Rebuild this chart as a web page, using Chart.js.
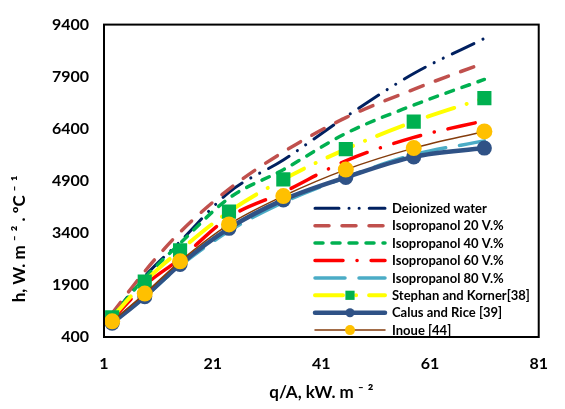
<!DOCTYPE html>
<html>
<head>
<meta charset="utf-8">
<script src="https://cdn.jsdelivr.net/npm/chart.js@4.4.1/dist/chart.umd.min.js"></script>
<style>
  html, body { margin: 0; padding: 0; background: #fff; }
  #wrap { width: 565px; height: 409px; position: relative; }
</style>
</head>
<body>
<div id="wrap"><canvas id="chart"></canvas></div>
<script>
'use strict';

// ── Data ───────────────────────────────────────────────────────────────────
const Q_FLUX      = [2.5, 8.5, 15, 24, 34, 45.5, 58, 71];
const DEIONIZED   = [1000, 2150, 3150, 4570, 5500, 6745, 7990, 9000];
const ISO_20      = [1080, 2290, 3420, 4660, 5730, 6720, 7535, 8300];
const ISO_40      = [1000, 2100, 3100, 4400, 5220, 6265, 7083, 7820];
const ISO_60      = [900, 1890, 2656, 3850, 4570, 5475, 6150, 6630];
const ISO_80      = [800, 1560, 2450, 3450, 4280, 5000, 5650, 6050];
const STEPHAN     = [964, 2000, 2900, 4010, 4940, 5814, 6604, 7280];
const CALUS       = [795, 1560, 2490, 3530, 4350, 4997, 5589, 5842];
const INOUE       = [851, 1650, 2580, 3643, 4461, 5222, 5842, 6322];

const X_TICKS = [1, 21, 41, 61, 81];
const Y_TICKS = [400, 1900, 3400, 4900, 6400, 7900, 9400];

const X_TITLE = 'q/A, kW. m \u207B \u00B2';
const Y_TITLE = 'h, W. m \u207B \u00B2 . \u00BAC \u207B \u00B9';

const FONT = 'Lato, "Open Sans", sans-serif';

// ── Series ─────────────────────────────────────────────────────────────────
function pts(ys) {
  return ys.map((y, i) => ({ x: Q_FLUX[i], y }));
}

const SERIES = [
  { label: 'Deionized water',       data: DEIONIZED, color: '#002060', width: 3,   dash: [24, 10, 0.1, 10, 0.1, 10] },
  { label: 'Isopropanol 20 V.%',    data: ISO_20,    color: '#C0504D', width: 3.5, dash: [14, 13] },
  { label: 'Isopropanol 40 V.%',    data: ISO_40,    color: '#00B050', width: 3.5, dash: [8, 9] },
  { label: 'Isopropanol 60 V.%',    data: ISO_60,    color: '#FF0000', width: 3.5, dash: [28, 14, 0.1, 14] },
  { label: 'Isopropanol 80 V.%',    data: ISO_80,    color: '#4BACC6', width: 3.5, dash: [30, 14] },
  { label: 'Stephan and Korner[38]', data: STEPHAN,  color: '#FFFF00', width: 4,   dash: [28, 13, 0.1, 13],
    point: { style: 'rect', radius: 10, color: '#00B050', legendRadius: 6.5 } },
  { label: 'Calus and Rice [39]',   data: CALUS,     color: '#2F5286', width: 4.5, dash: [],
    point: { style: 'circle', radius: 7.5, color: '#2F5286', legendRadius: 4.5 } },
  { label: 'Inoue [44]',            data: INOUE,     color: '#843C0C', width: 1.5, dash: [],
    point: { style: 'circle', radius: 8, color: '#FFC000', legendRadius: 5 } },
];

const datasets = SERIES.map((s, i) => ({
  label: s.label,
  data: pts(s.data),
  borderColor: s.color,
  backgroundColor: s.color,
  borderWidth: s.width,
  borderDash: s.dash,
  borderCapStyle: 'round',
  cubicInterpolationMode: 'monotone',
  pointStyle: s.point ? s.point.style : 'circle',
  pointRadius: s.point ? s.point.radius : 0,
  pointBackgroundColor: s.point ? s.point.color : s.color,
  pointBorderColor: s.point ? s.point.color : s.color,
  pointBorderWidth: 0,
  order: SERIES.length - i,
}));

// ── Plugins ────────────────────────────────────────────────────────────────
const frame = {
  id: 'frame',
  afterDatasetsDraw(chart) {
    const a = chart.chartArea, ctx = chart.ctx;
    ctx.save();
    ctx.strokeStyle = '#000';
    ctx.lineWidth = 2;
    ctx.strokeRect(a.left, a.top, a.right - a.left, a.bottom - a.top);
    ctx.restore();
  },
};

const titles = {
  id: 'titles',
  afterDraw(chart) {
    const ctx = chart.ctx, a = chart.chartArea;
    ctx.save();
    ctx.fillStyle = '#000';
    ctx.font = 'bold 17px ' + FONT;
    ctx.textAlign = 'center';
    ctx.textBaseline = 'middle';
    ctx.fillText(X_TITLE, (a.left + a.right) / 2, 393);
    ctx.translate(20, 239);
    ctx.rotate(-Math.PI / 2);
    ctx.fillText(Y_TITLE, 0, 0);
    ctx.restore();
  },
};

const insideLegend = {
  id: 'insideLegend',
  afterDraw(chart) {
    const ctx = chart.ctx;
    const x0 = 315, x1 = 385, top = 208.3, step = 17.4;
    ctx.save();
    chart.data.datasets.forEach((ds, i) => {
      const s = SERIES[i];
      const y = top + i * step;
      ctx.strokeStyle = ds.borderColor;
      ctx.lineWidth = ds.borderWidth;
      ctx.lineCap = 'round';
      ctx.setLineDash(ds.borderDash);
      ctx.beginPath();
      ctx.moveTo(x0, y);
      ctx.lineTo(x1, y);
      ctx.stroke();
      ctx.setLineDash([]);
      if (s.point) {
        ctx.fillStyle = s.point.color;
        ctx.beginPath();
        if (s.point.style === 'rect') {
          const h = s.point.legendRadius * Math.SQRT1_2;
          ctx.rect(350 - h, y - h, 2 * h, 2 * h);
        } else {
          ctx.arc(350, y, s.point.legendRadius, 0, Math.PI * 2);
        }
        ctx.fill();
      }
      ctx.fillStyle = '#000';
      ctx.font = 'bold 13px ' + FONT;
      ctx.textAlign = 'left';
      ctx.textBaseline = 'middle';
      ctx.fillText(ds.label, 392, y + 0.5);
    });
    ctx.restore();
  },
};

// ── Chart ──────────────────────────────────────────────────────────────────
new Chart(document.getElementById('chart'), {
  type: 'line',
  data: { datasets },
  plugins: [frame, titles, insideLegend],
  options: {
    responsive: true,
    maintainAspectRatio: false,
    animation: false,
    layout: { padding: { left: 0, right: 11, top: 17, bottom: 0 } },
    plugins: { legend: { display: false }, tooltip: { enabled: false } },
    scales: {
      x: {
        type: 'linear', min: 1, max: 81,
        afterBuildTicks: sc => { sc.ticks = X_TICKS.map(v => ({ value: v })); },
        afterFit: sc => { sc.height = 72; },
        grid: { display: false, drawTicks: false },
        border: { display: false },
        ticks: { color: '#000', font: { family: FONT, size: 16, weight: 'bold' }, padding: 17, maxRotation: 0,
                 callback: v => String(v) },
      },
      y: {
        type: 'linear', min: 400, max: 9400,
        afterBuildTicks: sc => { sc.ticks = Y_TICKS.map(v => ({ value: v })); },
        afterFit: sc => { sc.width = 104; },
        grid: { display: false, drawTicks: false },
        border: { display: false },
        ticks: { color: '#000', font: { family: FONT, size: 16, weight: 'bold' }, padding: 15,
                 callback: v => String(v) },
      },
    },
  },
});
</script>
</body>
</html>
